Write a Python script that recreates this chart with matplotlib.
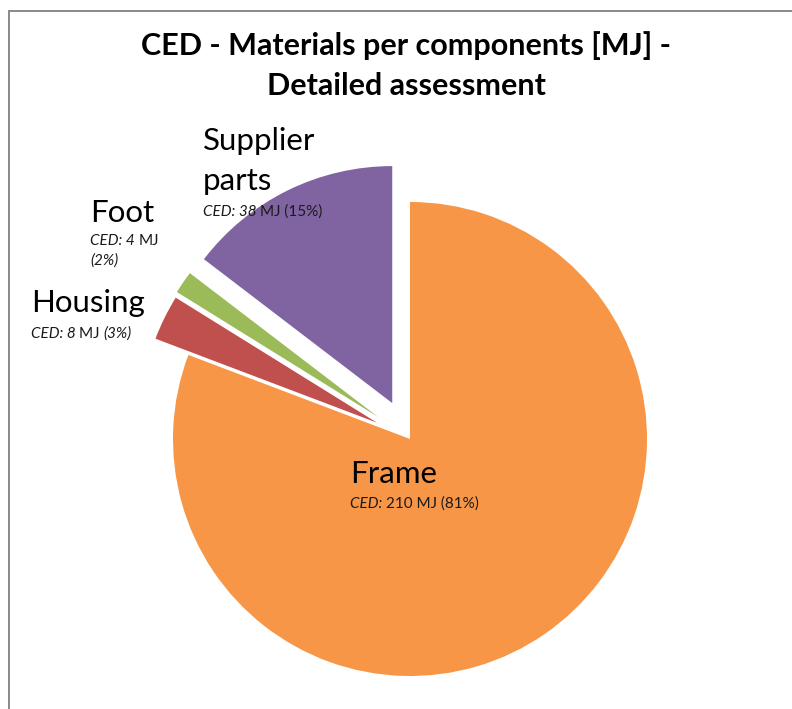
import matplotlib
matplotlib.use("Agg")
import matplotlib.pyplot as plt
from matplotlib.patches import Rectangle

# Component data (CED, MJ)
components = ["Frame", "Housing", "Foot", "Supplier parts"]
ced_mj = [210, 8, 4, 38]
percent_labels = ["81%", "3%", "2%", "15%"]
colors = ["#F79646", "#C0504D", "#9BBB59", "#8064A2"]
explode = [0.0, 0.155, 0.163, 0.169]

W, H = 792, 709
DPI = 100
fig = plt.figure(figsize=(W / DPI, H / DPI), dpi=DPI)
fig.patch.set_facecolor("white")

# pie centre and radius in pixels
CX, CY, R = 410, 439, 237
ax = fig.add_axes([0, 0, 1, 1])
ax.pie(ced_mj, colors=colors, explode=explode, startangle=90,
       counterclock=False, radius=1.0,
       wedgeprops=dict(linewidth=0))
ax.set_xlim(-CX / R, (W - CX) / R)
ax.set_ylim(-(H - CY) / R, CY / R)
ax.set_aspect("auto")
ax.axis("off")

# chart-area border (left and top edges only), drawn as thin filled bars
BORDER = "#8C8C8C"
fig.add_artist(Rectangle((8 / W, 0), 2 / W, 1 - 10 / H,
                         transform=fig.transFigure, facecolor=BORDER,
                         edgecolor="none", linewidth=0))
fig.add_artist(Rectangle((8 / W, 1 - 12 / H), 1.0, 2 / H,
                         transform=fig.transFigure, facecolor=BORDER,
                         edgecolor="none", linewidth=0))

FONT = "Lato"


def fx(px):
    return px / W


def fy(py):
    return 1 - py / H


# title
fig.text(fx(406), fy(55), "CED - Materials per components [MJ] -", ha="center",
         va="baseline", fontsize=22, fontweight="bold", family=FONT)
fig.text(fx(406), fy(95), "Detailed assessment", ha="center",
         va="baseline", fontsize=22, fontweight="bold", family=FONT)

renderer = fig.canvas.get_renderer()


def rich_line(x, y, pieces, size=11):
    """Draw text pieces with differing styles one after another on a baseline."""
    cur = x
    for txt, style in pieces:
        t = fig.text(fx(cur), fy(y), txt, ha="left", va="baseline",
                     fontsize=size, style=style, family=FONT, color="#1A1A1A")
        bb = t.get_window_extent(renderer=renderer)
        cur += bb.width


def name_label(x, y, txt):
    fig.text(fx(x), fy(y), txt, ha="left", va="baseline", fontsize=22.5,
             family=FONT, color="black")


# Supplier parts
name_label(203, 150, "Supplier")
name_label(203, 190, "parts")
rich_line(203, 216, [("CED: %d " % ced_mj[3], "italic"),
                     ("MJ (%s)" % percent_labels[3], "normal")])

# Foot
name_label(90, 222, components[2])
rich_line(90, 245, [("CED: %d " % ced_mj[2], "italic"), ("MJ", "normal")])
rich_line(90, 265, [("(%s)" % percent_labels[2], "italic")])

# Housing
name_label(31, 312, components[1])
rich_line(31, 338, [("CED: %d " % ced_mj[1], "italic"), ("MJ ", "normal"),
                    ("(%s)" % percent_labels[1], "italic")])

# Frame
name_label(350, 483, components[0])
rich_line(350, 508, [("CED: ", "italic"),
                     ("%d MJ (%s)" % (ced_mj[0], percent_labels[0]), "normal")])

fig.savefig("out.png", dpi=DPI, facecolor="white")
